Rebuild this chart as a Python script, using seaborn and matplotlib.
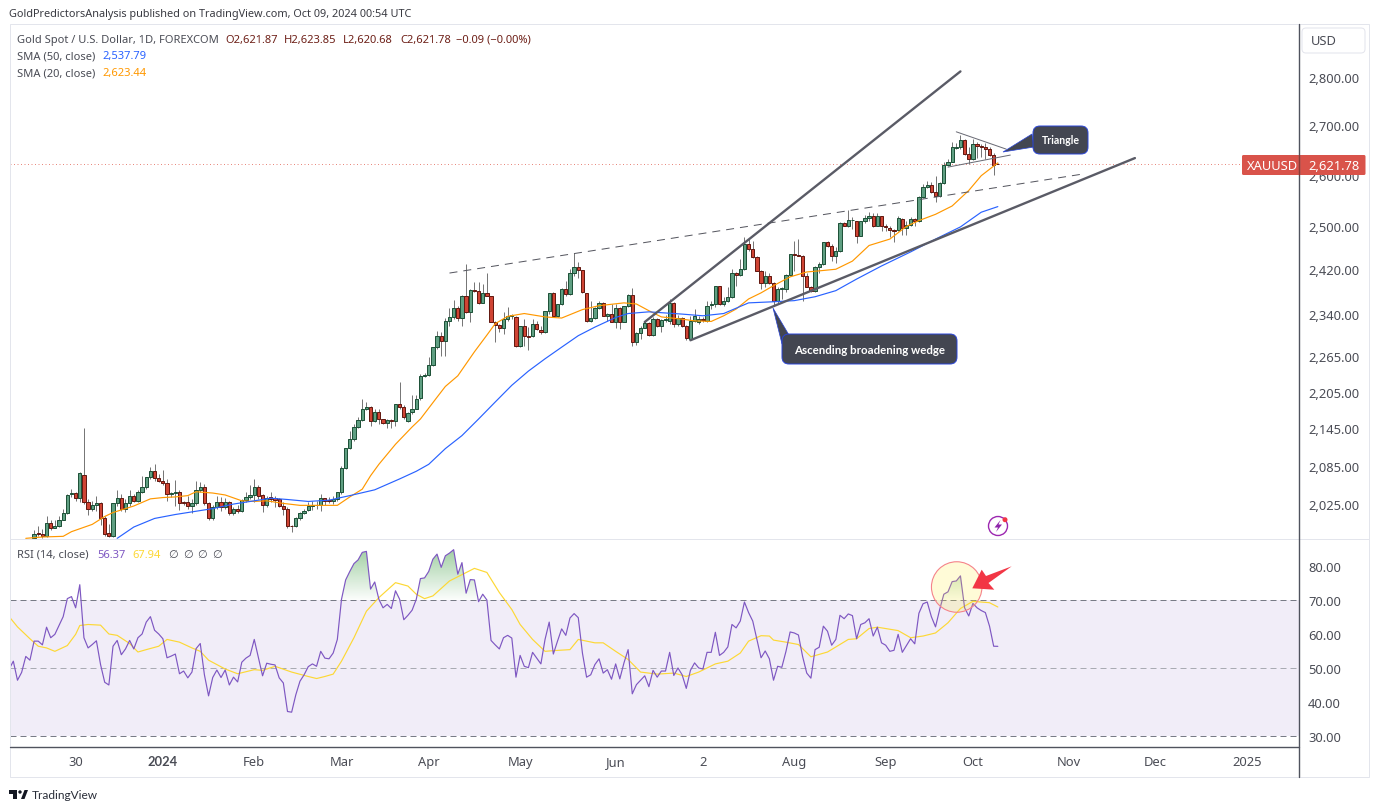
import numpy as np
import pandas as pd
import matplotlib
matplotlib.use("Agg")
import matplotlib.pyplot as plt
import seaborn as sns
from matplotlib.lines import Line2D
from matplotlib.patches import Ellipse, FancyBboxPatch, PathPatch, Polygon, Rectangle
from matplotlib.path import Path

# =========================================================
# DATA
# =========================================================

opens = [
    1973,1981,1979,1976,1996,1989,1991,2001,2012,2040,
    2042,2035,2070,2028,2018,2023,2027,2003,1981,1977,
    2026,2034,2018,2026,2038,2030,2044,2051,2067,2076,
    2065,2061,2058,2040,2042,2044,2028,2028,2022,2027,
    2046,2052,2027,2004,2021,2028,2020,2028,2011,2018,
    2015,2031,2036,2039,2052,2039,2023,2036,2034,2033,
    2022,2018,1992,1991,2003,2011,2016,2022,2023,2023,
    2034,2031,2030,2033,2043,2081,2113,
    2127,2147,2158,
    2177,2180,2157,2172,2160,2154,2158,2156,2184,2179,
    2156,2171,2177,2194,2232,2233,2250,2281,2300,2291,
    2327,2334,2350,2332,2371,2343,2382,2380,2359,2377,
    2371,2325,2320,2315,2330,2336,2334,2283,2318,2301,
    2300,2322,2311,2308,2344,2377,2336,2357,2384,2375,
    2413,2424,2418,2377,2327,2332,2350,2359,2336,2339,
    2325,2350,2325,2353,2373,2290,2306,2314,2323,2302,
    2330,2318,2328,2326,2359,2321,2332,2318,2295,2327,
    2325,2330,2327,2355,2357,2389,2357,2362,2370,2413,
    2409,2420,2467,2457,2442,2416,2395,2407,2395,2362,
    2384,2384,2409,2448,2446,2444,2407,2388,2380,2425,
    2429,2470,2463,2444,2454,2506,2500,2512,2510,2482,
    2510,2516,2520,2500,2520,2500,2497,2493,2493,2514,
    2497,2503,2514,2510,2556,2576,2580,2566,2558,2584,
    2619,2625,2654,2655,2669,2641,2631,2661,2657,2655,
    2651,2639,2621.87,
]
highs = [
    1985,1992,1987,2006,2001,2000,2007,2017,2041,2049,
    2044,2075,2145,2033,2030,2038,2028,2007,1994,2027,
    2047,2041,2033,2046,2041,2046,2068,2067,2082,2087,
    2072,2078,2064,2044,2062,2046,2030,2038,2033,2061,
    2059,2056,2028,2023,2037,2036,2034,2030,2020,2023,
    2033,2043,2055,2064,2055,2041,2037,2043,2038,2035,
    2028,2020,1993,2005,2013,2017,2028,2030,2029,2041,
    2035,2036,2038,2044,2085,2113,2140,
    2152,2164,2193,
    2188,2182,2177,2176,2160,2160,2160,2184,2221,2183,
    2172,2199,2199,2235,2236,2264,2281,2309,2307,2332,
    2350,2364,2354,2373,2429,2384,2396,2396,2393,2414,
    2372,2327,2322,2343,2352,2339,2335,2318,2330,2316,
    2330,2327,2318,2344,2377,2379,2357,2386,2398,2420,
    2450,2433,2419,2377,2362,2352,2362,2361,2341,2357,
    2357,2352,2353,2375,2386,2308,2318,2327,2325,2334,
    2332,2330,2338,2366,2361,2337,2334,2320,2335,2348,
    2335,2334,2362,2362,2389,2389,2370,2387,2420,2415,
    2439,2480,2476,2472,2444,2418,2416,2413,2396,2388,
    2388,2411,2449,2472,2476,2446,2414,2389,2426,2433,
    2471,2472,2467,2461,2508,2508,2531,2518,2510,2511,
    2522,2527,2525,2525,2520,2504,2500,2495,2520,2516,
    2510,2518,2516,2558,2582,2588,2586,2598,2586,2625,
    2631,2665,2663,2680,2671,2655,2671,2665,2661,2663,
    2655,2643,2623.85,
]
lows = [
    1972,1977,1973,1975,1986,1988,1990,2000,2010,2036,
    2030,2028,2025,2009,2015,2015,1993,1976,1975,1975,
    2022,2015,2013,2022,2028,2028,2042,2049,2064,2061,
    2059,2054,2030,2036,2022,2016,2023,2017,2012,2023,
    2043,2023,2001,2001,2017,2015,2017,2009,2009,2012,
    2013,2028,2033,2028,2033,2013,2021,2028,2020,2020,
    2009,1988,1983,1990,2001,2010,2015,2016,2017,2015,
    2023,2026,2025,2030,2041,2079,2111,
    2125,2145,2157,
    2174,2149,2155,2152,2152,2146,2146,2148,2177,2160,
    2155,2168,2176,2192,2230,2232,2248,2278,2266,2266,
    2318,2330,2327,2318,2341,2325,2379,2357,2358,2371,
    2325,2290,2308,2304,2327,2330,2281,2281,2283,2276,
    2299,2311,2304,2306,2339,2334,2334,2355,2371,2373,
    2407,2404,2377,2325,2325,2330,2348,2335,2327,2325,
    2315,2313,2325,2352,2283,2285,2295,2314,2300,2300,
    2316,2308,2325,2322,2316,2318,2316,2293,2293,2325,
    2322,2325,2325,2348,2352,2355,2353,2361,2368,2389,
    2407,2418,2454,2441,2416,2384,2388,2393,2353,2359,
    2366,2379,2407,2416,2444,2362,2388,2379,2379,2414,
    2427,2461,2435,2431,2452,2500,2498,2495,2469,2482,
    2506,2510,2499,2500,2491,2491,2480,2471,2491,2484,
    2484,2501,2501,2508,2554,2574,2564,2547,2556,2582,
    2617,2625,2651,2651,2639,2621,2629,2633,2635,2631,
    2637,2600,2620.68,
]
closes = [
    1980,1980,1976,1996,1989,1991,2001,2012,2039,2042,
    2035,2074,2028,2018,2023,2027,2003,1980,1977,2026,
    2034,2018,2026,2038,2030,2044,2051,2067,2076,2065,
    2061,2058,2040,2042,2044,2026,2027,2022,2027,2046,
    2052,2027,2004,2021,2028,2020,2028,2011,2018,2015,
    2031,2036,2039,2052,2038,2023,2034,2033,2032,2022,
    2018,1991,1991,2003,2011,2015,2022,2023,2023,2034,
    2030,2030,2033,2043,2081,2113,2127,
    2147,2158,2177,
    2180,2157,2172,2160,2154,2158,2156,2184,2180,2164,
    2170,2177,2193,2231,2234,2250,2281,2300,2291,2327,
    2334,2350,2332,2371,2343,2382,2380,2359,2377,2371,
    2325,2320,2315,2330,2336,2337,2283,2318,2300,2299,
    2322,2313,2308,2344,2377,2336,2357,2384,2375,2413,
    2424,2418,2379,2327,2332,2350,2359,2336,2339,2325,
    2350,2325,2353,2373,2290,2306,2314,2323,2302,2330,
    2318,2328,2331,2359,2321,2332,2318,2297,2327,2335,
    2330,2328,2353,2357,2389,2357,2362,2370,2413,2409,
    2420,2467,2457,2442,2416,2395,2407,2395,2362,2384,
    2385,2409,2448,2446,2444,2407,2388,2380,2425,2429,
    2470,2463,2444,2454,2506,2500,2512,2513,2482,2510,
    2516,2520,2500,2520,2500,2498,2493,2492,2516,2497,
    2503,2514,2510,2556,2576,2580,2566,2558,2584,2619,
    2625,2655,2655,2669,2641,2631,2661,2657,2655,2651,
    2639,2619,2621.78,
]

sma20_bars = [
    -2,2,7,9,14,17,19,24,28,31,34,37,39,43,46,50,53,56,60,64,69,73,76,79,81,83,87,91,93,97,
    99,102,106,109,111,114,118,123,127,132,136,142,145,148,151,156,159,163,166,169,172,175,
    178,182,186,189,193,197,201,206,210,213,217,221,225,228,232,
]
sma20_vals = [
    1973,1975,1976,1983,1994,2006,2012,2022,2033,2035,2036,2038,2044,2042,2039,2030,2029,2030,
    2026,2023,2023,2023,2036,2048,2069,2087,2119,2147,2160,2196,2214,2232,2273,2302,2322,2335,
    2340,2334,2332,2347,2354,2359,2357,2345,2334,2330,2327,2326,2336,2348,2366,2377,2390,2406,
    2415,2417,2420,2435,2464,2476,2500,2511,2523,2539,2569,2598,2623.44,
]
sma50_bars = [
    20,24,29,34,38,43,48,53,57,61,66,71,76,82,88,92,95,99,103,107,111,115,119,123,127,131,135,
    140,143,148,156,161,166,172,178,183,188,193,198,204,211,217,223,228,232,
]
sma50_vals = [
    1973,1990,2003,2009,2013,2018,2025,2030,2034,2032,2029,2031,2038,2047,2064,2076,2087,2112,
    2133,2160,2188,2216,2240,2261,2281,2301,2316,2333,2340,2343,2339,2336,2340,2359,2361,2363,
    2370,2381,2402,2426,2452,2476,2499,2527,2537.79,
]

rsi_vals = [
    49.7,52.0,46.4,48.7,53.4,52.3,57.9,57.9,56.8,62.0,58.9,59.9,62.5,65.1,70.4,71.0,67.7,74.5,
    58.9,55.9,56.9,58.0,51.0,45.8,45.0,56.4,58.1,53.9,55.6,58.1,55.6,58.9,60.0,63.5,65.1,61.1,
    60.0,58.6,53.0,53.5,54.1,48.3,49.1,47.1,48.8,55.7,57.2,48.0,41.8,47.2,49.4,47.2,49.4,45.0,
    47.3,45.9,51.7,52.9,53.7,58.4,53.0,47.7,51.4,51.1,50.9,47.1,45.6,37.2,37.0,42.1,46.1,48.0,
    50.4,51.2,50.5,54.9,52.9,52.7,54.4,58.4,70.2,75.9,78.4,80.7,81.8,84.0,84.3,73.2,75.3,70.2,
    67.7,68.7,67.5,72.7,70.2,64.2,65.5,67.0,70.2,76.3,76.5,78.4,82.0,83.5,79.6,83.0,83.8,84.8,
    77.6,81.0,72.0,76.0,75.9,69.5,71.7,70.0,58.1,56.8,55.6,
    58.9,59.6,58.8,47.3,53.7,50.5,50.1,54.6,52.9,51.2,58.4,63.5,54.1,57.9,61.5,59.6,64.7,66.0,
    64.8,54.4,47.3,48.0,51.0,52.7,48.5,49.5,46.7,51.2,46.8,51.5,55.4,42.4,45.1,46.4,47.7,44.5,
    49.3,47.3,49.1,49.1,54.6,47.8,50.0,48.0,44.0,49.3,51.5,50.0,49.7,54.6,54.6,60.5,53.7,54.6,
    56.2,62.8,61.8,63.8,69.4,66.3,63.8,58.4,53.0,55.0,52.7,46.4,50.5,50.2,54.9,60.6,60.3,59.7,
    53.4,48.5,47.0,55.4,56.1,62.3,60.8,56.7,58.4,65.5,64.5,65.9,65.4,58.6,62.8,63.3,64.5,59.4,
    62.0,57.4,56.7,54.9,55.2,59.9,54.6,56.6,58.6,57.1,66.1,68.9,69.4,65.1,62.1,67.2,71.7,72.4,
    75.4,75.6,77.1,67.7,65.3,69.0,67.7,66.9,66.3,62.3,56.4,56.37,
]
rsi_ma_bars = [
    -6,-4,-1,1,3,5,8,10,11,13,16,18,20,23,25,27,30,32,35,38,40,42,46,49,53,55,58,62,66,68,70,72,
    74,77,80,83,87,90,92,94,96,100,106,109,112,115,117,120,123,125,129,131,135,137,140,143,146,
    150,154,157,160,164,167,170,172,175,177,178,181,184,187,191,196,198,201,203,208,211,214,217,
    220,223,226,230,232,
]
rsi_ma_vals = [
    65.1,62.1,58.6,56.4,55.9,54.9,56.6,59.9,62.5,62.8,62.6,60,59.6,57.2,54.7,55.4,56.4,58.4,57.6,
    55.9,54.9,52.3,49.7,48.3,49.5,49.3,50.5,48.8,47.5,46.9,47.5,48.2,52,58.9,66.7,70.7,75.1,74.1,
    71.7,70.4,71.2,75.6,79.3,78.1,72.2,67.2,62.8,58.4,54.9,55.1,55.4,58.4,57.4,57.4,54.9,52.5,
    48.8,48.2,48.5,47.5,48.8,51.2,52,54.4,57.9,59.5,59.4,58.2,57.6,56.9,53.3,54.7,58.4,58.6,61.6,
    62,61,58.9,59.4,60.3,63.3,67.5,69.6,69.2,67.94,
]

price_ticks = [2025, 2085, 2145, 2205, 2265, 2340, 2420, 2500, 2600, 2700, 2800]
rsi_ticks = [30, 40, 50, 60, 70, 80]
time_ticks = [10, 31, 53, 74, 95, 117, 140, 161, 183, 205, 226, 249, 270, 292]
time_labels = ["30", "2024", "Feb", "Mar", "Apr", "May", "Jun", "2", "Aug", "Sep", "Oct", "Nov", "Dec", "2025"]

# trend lines drawn by the author, (bar, price)
wedge_upper = ([147, 223], [2325, 2812])
wedge_lower = ([158, 265], [2293, 2633])
resistance = ([100, 253], [2413, 2602])
tri_upper = ([222, 234], [2686, 2651])
tri_lower = ([220, 235], [2615, 2639])
last_close = 2621.78

# =========================================================
# FIGURE
# =========================================================

W, H = 1379, 812
sns.set_style("white")
plt.rcParams["font.family"] = ["Noto Sans", "DejaVu Sans"]

GREY = "#4a4c55"
LIGHT = "#e3e5ec"
DARK_LINE = "#50535e"
PX = 0.72  # one pixel in points at dpi 100


def fx(x):
    return x / W


def fy(y):
    return 1 - y / H


def make_axes(top, bottom):
    return fig.add_axes([fx(10), fy(bottom), (1299 - 10) / W, (bottom - top) / H])


def put(x, y, s, color=GREY, size=9.3, **kw):
    kw.setdefault("va", "center")
    fig.text(fx(x), fy(y), s, color=color, fontsize=size, **kw)


def poly(points, **kw):
    pts = [(fx(a), fy(b)) for a, b in points]
    fig.add_artist(Polygon(pts, closed=True, transform=fig.transFigure, **kw))


def dot(x, y, d, **kw):
    fig.add_artist(Ellipse((fx(x), fy(y)), d / W, d / H, transform=fig.transFigure, **kw))


def box(x0, y0, x1, y1, r, **kw):
    fig.add_artist(FancyBboxPatch((fx(x0), fy(y1)), (x1 - x0) / W, (y1 - y0) / H,
                                  boxstyle=f"round,pad=0,rounding_size={r / W}",
                                  transform=fig.transFigure, mutation_aspect=W / H, **kw))


fig = plt.figure(figsize=(W / 100, H / 100), dpi=100)
ax = make_axes(25, 540)
ax_rsi = make_axes(540, 748)

# =========================================================
# PRICE PANE
# =========================================================

bars = np.arange(len(closes))
o = np.array(opens)
c = np.array(closes)
up = c >= o

ax.set_yscale("log")
ax.vlines(bars, lows, highs, color="#777777", lw=PX, zorder=2)
ax.bar(bars[up], (c - o)[up], bottom=o[up], width=0.78, color="#5f9f82", edgecolor="#1f5239", lw=PX, zorder=3)
ax.bar(bars[~up], (o - c)[~up], bottom=c[~up], width=0.78, color="#cf4434", edgecolor="#641a12", lw=PX, zorder=3)

sma20 = pd.DataFrame({"bar": sma20_bars, "value": sma20_vals})
sma50 = pd.DataFrame({"bar": sma50_bars, "value": sma50_vals})
sns.lineplot(data=sma20, x="bar", y="value", ax=ax, color="#ff9800", lw=0.85, estimator=None, legend=False, zorder=4)
sns.lineplot(data=sma50, x="bar", y="value", ax=ax, color="#2962ff", lw=0.85, estimator=None, legend=False, zorder=4)

ax.axhline(last_close, color="#e8897e", lw=PX, ls=(0, (1, 2.5)), zorder=1)
for line in (wedge_upper, wedge_lower):
    ax.plot(line[0], line[1], color="#5a5b66", lw=1.7, zorder=5, solid_capstyle="round")
ax.plot(resistance[0], resistance[1], color="#55565f", lw=PX, ls=(0, (8, 6)), zorder=5)
for line in (tri_upper, tri_lower):
    ax.plot(line[0], line[1], color="#6a6b75", lw=PX, zorder=5)

ax.set_xlim(-5.8, 304.5)
ax.set_ylim(1972, 2915)
ax.set_xticks([])
ax.yaxis.tick_right()
ax.set_yticks(price_ticks, [f"{t:,.2f}" for t in price_ticks])
ax.minorticks_off()
ax.tick_params(axis="y", length=0, pad=6.5, labelsize=9.3, labelcolor=GREY)
ax.set_xlabel("")
ax.set_ylabel("")
for s in ax.spines.values():
    s.set_visible(False)

# =========================================================
# RSI PANE
# =========================================================

rsi_bars = np.arange(len(closes) - len(rsi_vals), len(closes))
rsi = np.array(rsi_vals)

ax_rsi.axhspan(30, 70, color="#7e57c2", alpha=0.105, lw=0, zorder=0)
for level, col in ((70, "#787b86"), (50, "#a9abb3"), (30, "#787b86")):
    ax_rsi.axhline(level, color=col, lw=PX, ls=(0, (6, 4)), zorder=1)

# gradient fill above the 70 line
hot = ax_rsi.fill_between(rsi_bars, rsi, 70, where=rsi >= 70, interpolate=True, color="none", lw=0)
clip = PathPatch(Path.make_compound_path(*hot.get_paths()), transform=ax_rsi.transData, fc="none", ec="none")
ax_rsi.add_patch(clip)
grad = np.zeros((64, 2, 4))
grad[..., :3] = matplotlib.colors.to_rgb("#43a047")
grad[..., 3] = np.linspace(0.02, 0.5, 64)[:, None]
img = ax_rsi.imshow(grad, extent=(-6, 233, 70, 85), origin="lower", aspect="auto", zorder=1.5)
img.set_clip_path(clip)

rsi_df = pd.DataFrame({"bar": rsi_bars, "value": rsi})
rsi_ma = pd.DataFrame({"bar": rsi_ma_bars, "value": rsi_ma_vals})
sns.lineplot(data=rsi_ma, x="bar", y="value", ax=ax_rsi, color="#fdd835", lw=0.85, estimator=None, legend=False, zorder=3)
sns.lineplot(data=rsi_df, x="bar", y="value", ax=ax_rsi, color="#7e57c2", lw=0.85, estimator=None, legend=False, zorder=4)

ax_rsi.set_xlim(-5.8, 304.5)
ax_rsi.set_ylim(26.76, 87.94)
ax_rsi.yaxis.tick_right()
ax_rsi.set_yticks(rsi_ticks, [f"{t:.2f}" for t in rsi_ticks])
ax_rsi.set_xticks(time_ticks, time_labels)
ax_rsi.tick_params(axis="y", length=0, pad=6.5, labelsize=9.3, labelcolor=GREY)
ax_rsi.tick_params(axis="x", length=0, pad=6, labelsize=9.3, labelcolor=GREY)
ax_rsi.get_xticklabels()[1].set_fontweight("bold")
ax_rsi.get_xticklabels()[1].set_fontfamily("Lato")
ax_rsi.set_xlabel("")
ax_rsi.set_ylabel("")
for s in ax_rsi.spines.values():
    s.set_visible(False)

# =========================================================
# FRAME
# =========================================================

fig.add_artist(Rectangle((fx(10), fy(778)), 1359 / W, 753 / H, transform=fig.transFigure, fc="none", ec=LIGHT, lw=PX))
fig.add_artist(Line2D([fx(10), fx(1369)], [fy(540), fy(540)], color=LIGHT, lw=PX))
fig.add_artist(Line2D([fx(10), fx(1299)], [fy(748), fy(748)], color=DARK_LINE, lw=1))
fig.add_artist(Line2D([fx(1299), fx(1299)], [fy(25), fy(778)], color=DARK_LINE, lw=1))

# =========================================================
# TEXTS
# =========================================================

put(9, 14.5, "GoldPredictorsAnalysis published on TradingView.com, Oct 09, 2024 00:54 UTC", color="#3a3b42", size=7.85)

put(17, 40.5, "Gold Spot / U.S. Dollar, 1D, FOREXCOM", size=8.0)
RED_TXT = "#6e2018"
put(225, 40.5, "O2,621.87", color=RED_TXT, size=8.0)
put(284, 40.5, "H2,623.85", color=RED_TXT, size=8.0)
put(343, 40.5, "L2,620.68", color=RED_TXT, size=8.0)
put(400, 40.5, "C2,621.78", color=RED_TXT, size=8.0)
put(456, 40.5, "\u22120.09 (\u22120.00%)", color=RED_TXT, size=8.0)
put(17, 57, "SMA (50, close)", size=8.0)
put(102, 57, "2,537.79", color="#2962ff", size=8.0)
put(17, 73.5, "SMA (20, close)", size=8.0)
put(102, 73.5, "2,623.44", color="#ff9800", size=8.0)

put(17, 555, "RSI (14, close)", size=8.0)
put(97.5, 555, "56.37", color="#7e57c2", size=8.0)
put(132.5, 555, "67.94", color="#fdd835", size=8.0)
for xp in (168, 183, 197, 212):
    put(xp, 555, "\u2205", size=8.0)

# USD box
box(1302, 29, 1365, 54, 4, fc="white", ec=LIGHT, lw=PX)
put(1311, 41.5, "USD", size=9.3)

# last price tag
box(1242, 156, 1365.5, 176, 1.5, fc="#d9534a", ec="none")
fig.add_artist(Line2D([fx(1299), fx(1299)], [fy(156), fy(176)], color="#8a3a34", lw=PX))
put(1247, 166, "XAUUSD", color="white", size=9.3)
put(1308, 166, "2,621.78", color="white", size=9.3)

# =========================================================
# CALLOUTS
# =========================================================

CALLOUT = "#434651"
EDGE = "#2944d8"
poly([(1032, 135), (1003, 153), (1034, 148)], fc=CALLOUT, ec=EDGE, lw=0.5, zorder=5)
box(1033, 127, 1088, 155, 7, fc=CALLOUT, ec=EDGE, lw=0.7, zorder=6)
put(1061, 141, "Triangle", color="white", size=7.6, fontweight="bold", family="Lato", ha="center", zorder=7)

poly([(773, 309), (789, 336), (782, 345)], fc=CALLOUT, ec=EDGE, lw=0.5, zorder=5)
box(782, 335, 957, 365, 7, fc=CALLOUT, ec=EDGE, lw=0.7, zorder=6)
put(869.5, 350.5, "Ascending broadening wedge", color="white", size=8.3, fontweight="bold", family="Lato", ha="center", zorder=7)

# circle and arrow over the RSI peak
dot(956.7, 588, 50.5, fc=(1.0, 0.92, 0.23, 0.2), ec="#f5838a", lw=0.8, zorder=5)
poly([(972.3, 589.3), (981.7, 570.7), (986, 577), (1011.7, 567.3), (988.5, 584), (994.3, 590.7)],
     fc="#f23645", ec="none", zorder=6)

# event icon
dot(998, 527, 19, fc="white", ec="#9c27b0", lw=1.0, zorder=5)
poly([(1000.5, 521), (994.5, 528.5), (998, 528.5), (996, 533), (1002, 525.5), (998.5, 525.5)],
     fc="#8e24aa", ec="none", zorder=6)
dot(1005, 520.7, 5, fc="#f23645", ec="none", zorder=6)

# TradingView logo
poly([(9, 791), (17, 791), (17, 800), (13, 800), (13, 795), (9, 795)], fc="#131722", ec="none")
poly([(21, 800), (24.5, 791), (28, 791), (24.5, 800)], fc="#131722", ec="none")
dot(20, 793, 3.4, fc="#131722", ec="none")
put(32, 796, "TradingView", color="#2a2e39", size=8.6, family="Lato")

fig.savefig("out.png", dpi=100)
